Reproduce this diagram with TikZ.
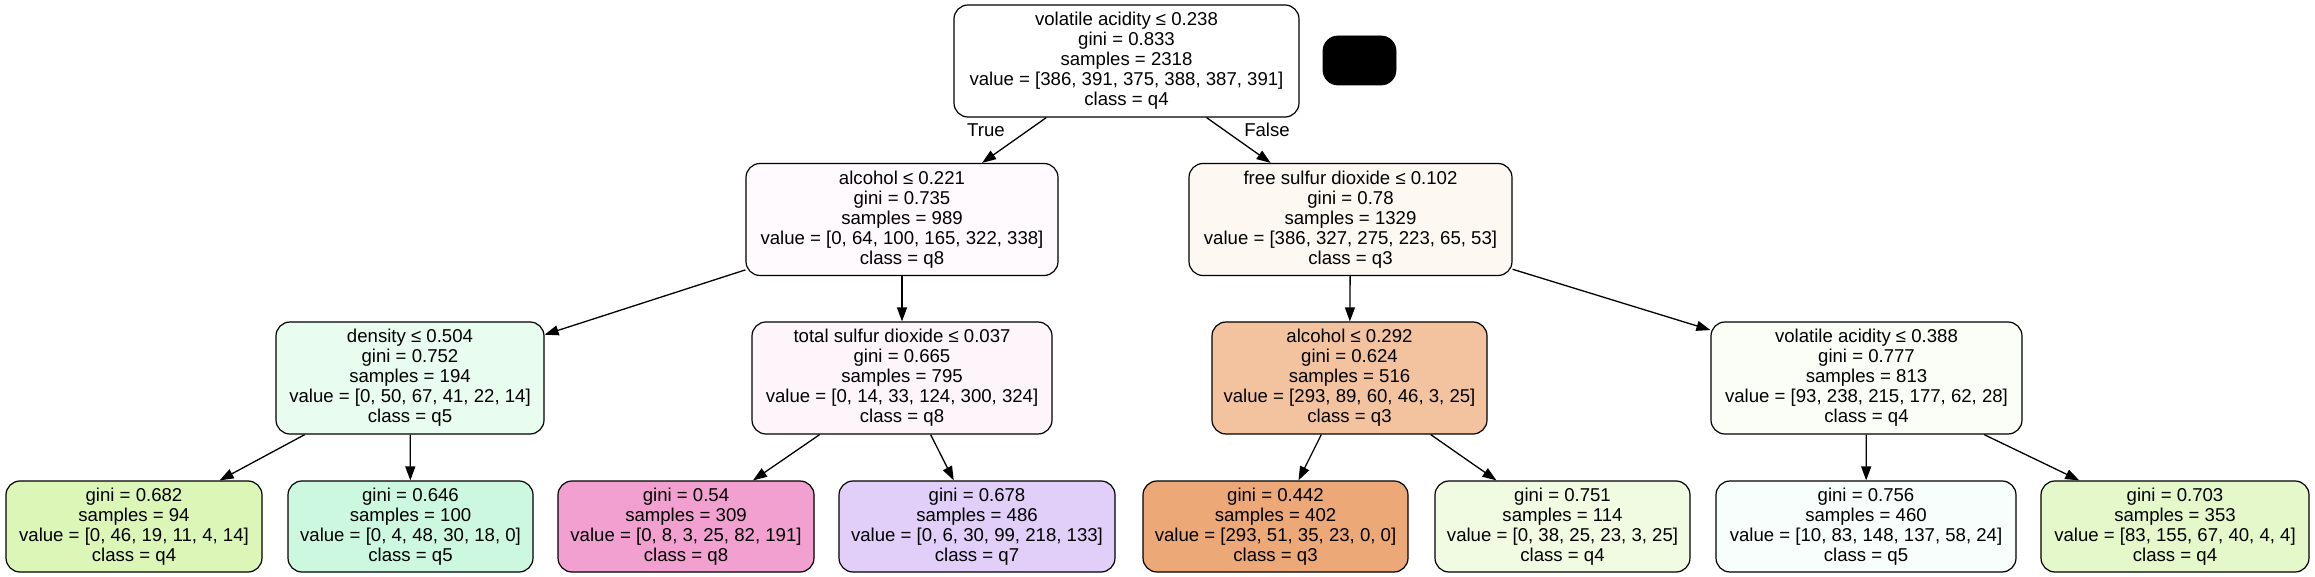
\documentclass[tikz,border=0pt]{standalone}
\usepackage{fontspec}
\setmainfont{Liberation Sans}
\usetikzlibrary{arrows.meta}
\definecolor{cR}{HTML}{FFFFFF}
\definecolor{cA}{HTML}{FEFAFD}
\definecolor{cB}{HTML}{FEF8F3}
\definecolor{cC}{HTML}{E8FCF0}
\definecolor{cD}{HTML}{FEF5FA}
\definecolor{cE}{HTML}{F3C3A0}
\definecolor{cF}{HTML}{FBFEF7}
\definecolor{cL1}{HTML}{DCF6B8}
\definecolor{cL2}{HTML}{CCF8DF}
\definecolor{cL3}{HTML}{F2A0D0}
\definecolor{cL4}{HTML}{E1CFF9}
\definecolor{cL5}{HTML}{EDA877}
\definecolor{cL6}{HTML}{F1FBE2}
\definecolor{cL7}{HTML}{F8FEFB}
\definecolor{cL8}{HTML}{E5F8CA}
\begin{document}
\begin{tikzpicture}[x=0.5pt,y=-0.5pt,
  tree/.style={draw=black, line width=0.6pt, rounded corners=7pt, inner sep=0pt,
    align=center, font=\fontsize{9.3}{10}\selectfont},
  inner/.style={tree, minimum height=56pt},
  leaf/.style={tree, minimum height=45.5pt},
  edge/.style={draw=black, line width=0.65pt, -{Triangle[length=7pt,width=5pt]}},
  lab/.style={inner sep=0pt, font=\fontsize{9.3}{10}\selectfont}]
\useasboundingbox (0,0) rectangle (2315,577);

% root and black box
\node[inner, fill=cR, minimum width=172.5pt] (root) at (1126.5,61)
  {volatile acidity ≤ 0.238\\gini = 0.833\\samples = 2318\\value = [386, 391, 375, 388, 387, 391]\\class = q4};
\node[fill=black, draw=black, rounded corners=7.5pt, minimum width=36.5pt, minimum height=24.5pt, inner sep=0pt] (blk) at (1359.5,60.5) {};

% level 1
\node[inner, fill=cA, minimum width=156pt] (a) at (902,219.5)
  {alcohol ≤ 0.221\\gini = 0.735\\samples = 989\\value = [0, 64, 100, 165, 322, 338]\\class = q8};
\node[inner, fill=cB, minimum width=161.5pt] (b) at (1350.5,219.5)
  {free sulfur dioxide ≤ 0.102\\gini = 0.78\\samples = 1329\\value = [386, 327, 275, 223, 65, 53]\\class = q3};

% level 2
\node[inner, fill=cC, minimum width=134pt] (aa) at (410,378)
  {density ≤ 0.504\\gini = 0.752\\samples = 194\\value = [0, 50, 67, 41, 22, 14]\\class = q5};
\node[inner, fill=cD, minimum width=150pt] (ab) at (902,378)
  {total sulfur dioxide ≤ 0.037\\gini = 0.665\\samples = 795\\value = [0, 14, 33, 124, 300, 324]\\class = q8};
\node[inner, fill=cE, minimum width=137.5pt] (ba) at (1349.5,378)
  {alcohol ≤ 0.292\\gini = 0.624\\samples = 516\\value = [293, 89, 60, 46, 3, 25]\\class = q3};
\node[inner, fill=cF, minimum width=155.5pt] (bb) at (1866.5,378)
  {volatile acidity ≤ 0.388\\gini = 0.777\\samples = 813\\value = [93, 238, 215, 177, 62, 28]\\class = q4};

% leaves
\node[leaf, fill=cL1, minimum width=128pt] (l1) at (134,526.5)
  {gini = 0.682\\samples = 94\\value = [0, 46, 19, 11, 4, 14]\\class = q4};
\node[leaf, fill=cL2, minimum width=122.5pt] (l2) at (410.5,526.5)
  {gini = 0.646\\samples = 100\\value = [0, 4, 48, 30, 18, 0]\\class = q5};
\node[leaf, fill=cL3, minimum width=128pt] (l3) at (686,526.5)
  {gini = 0.54\\samples = 309\\value = [0, 8, 3, 25, 82, 191]\\class = q8};
\node[leaf, fill=cL4, minimum width=138pt] (l4) at (977,526.5)
  {gini = 0.678\\samples = 486\\value = [0, 6, 30, 99, 218, 133]\\class = q7};
\node[leaf, fill=cL5, minimum width=132.5pt] (l5) at (1275.5,526.5)
  {gini = 0.442\\samples = 402\\value = [293, 51, 35, 23, 0, 0]\\class = q3};
\node[leaf, fill=cL6, minimum width=127.5pt] (l6) at (1562.5,526.5)
  {gini = 0.751\\samples = 114\\value = [0, 38, 25, 23, 3, 25]\\class = q4};
\node[leaf, fill=cL7, minimum width=150pt] (l7) at (1866,526.5)
  {gini = 0.756\\samples = 460\\value = [10, 83, 148, 137, 58, 24]\\class = q5};
\node[leaf, fill=cL8, minimum width=134pt] (l8) at (2175,526.5)
  {gini = 0.703\\samples = 353\\value = [83, 155, 67, 40, 4, 4]\\class = q4};

% edges
\draw[edge] (root) -- (a);
\draw[edge] (root) -- (b);
\draw[edge] (a) -- (aa);
\draw[edge] (a) -- (ab);
\draw[edge] (b) -- (ba);
\draw[edge] (b) -- (bb);
\draw[edge] (aa) -- (l1);
\draw[edge] (aa) -- (l2);
\draw[edge] (ab) -- (l3);
\draw[edge] (ab) -- (l4);
\draw[edge] (ba) -- (l5);
\draw[edge] (ba) -- (l6);
\draw[edge] (bb) -- (l7);
\draw[edge] (bb) -- (l8);

% edge labels
\node[lab] (tl) at (986,130) {True};
\node[lab] (fl) at (1267,130) {False};
\end{tikzpicture}
\end{document}
